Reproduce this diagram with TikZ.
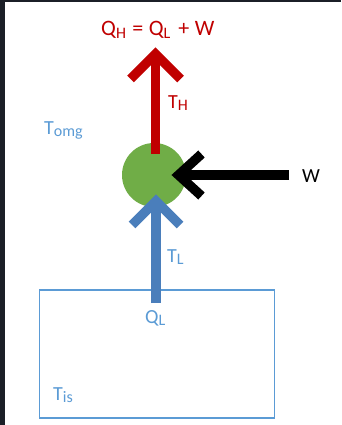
\documentclass[tikz,border=0pt]{standalone}
\usepackage{fontspec}
\setmainfont{Carlito}
\usetikzlibrary{calc}
\definecolor{hotred}{HTML}{C00000}
\definecolor{flowblue}{HTML}{4A7EBB}
\definecolor{lightblue}{HTML}{5B9BD5}
\definecolor{ballgreen}{HTML}{70AD47}
\definecolor{frame}{HTML}{1B1F27}
\newcommand\lowsub[1]{\raisebox{-2.5pt}{\fontsize{16}{16}\selectfont #1}}
\begin{document}
\begin{tikzpicture}[x=1pt,y=-1pt,
  lbl/.style={inner sep=0pt,anchor=base west,font=\fontsize{20}{24}\selectfont},
  biglbl/.style={inner sep=0pt,anchor=base west,font=\fontsize{22}{26}\selectfont},
  shaft/.style={line width=9.5pt},
  chevron/.style={line width=9.5pt,miter limit=10,line join=miter}]
\useasboundingbox (0,0) rectangle (341,425);
\fill[white] (0,0) rectangle (341,425);
\fill[frame] (0,0) rectangle (5,425);
\fill[frame] (0,0) rectangle (341,2.5);
% system box
\node[draw=lightblue,line width=1.6pt,minimum width=235pt,minimum height=128pt,inner sep=0pt,anchor=north west] (box) at (38.5,289) {};
% machine
\node[circle,fill=ballgreen,minimum size=64pt,inner sep=0pt] (m) at (154,175) {};
% coordinates
\coordinate (qlstart) at (156,303);
\coordinate (bluetip) at (156,201);
\coordinate (redbase) at (155.5,154);
\coordinate (redtip) at (155.5,54);
\coordinate (wstart) at (289,175);
\coordinate (blacktip) at (178.5,175);
% blue arrow (Q_L into machine)
\draw[shaft,flowblue] (qlstart) -- (bluetip);
\draw[chevron,flowblue] ($(bluetip)+(-24,24)$) -- (bluetip) -- ($(bluetip)+(24,24)$);
% red arrow (Q_H out)
\draw[shaft,hotred] (redbase) -- (redtip);
\draw[chevron,hotred] ($(redtip)+(-25,25)$) -- (redtip) -- ($(redtip)+(25,25)$);
% black arrow (W in)
\draw[shaft,black] (wstart) -- (blacktip);
\draw[chevron,black] ($(blacktip)+(23,-21)$) -- (blacktip) -- ($(blacktip)+(23,21)$);
% labels
\node[biglbl,hotred] (qh) at (101,36) {Q\lowsub{H}\hspace{6.5pt}=\hspace{5.5pt}Q\lowsub{L}\hspace{8pt}+\hspace{5.5pt}W};
\node[lbl,hotred] (th) at (168,108) {T\lowsub{H}};
\node[lbl,lightblue] (tomg) at (44,134) {T\lowsub{omg}};
\node[lbl,black] (w) at (302,182) {W};
\node[lbl,lightblue] (tl) at (167,262) {T\lowsub{L}};
\node[lbl,lightblue] (ql) at (145,323) {Q\lowsub{L}};
\node[lbl,lightblue] (tis) at (53,400) {T\lowsub{is}};
\end{tikzpicture}
\end{document}
